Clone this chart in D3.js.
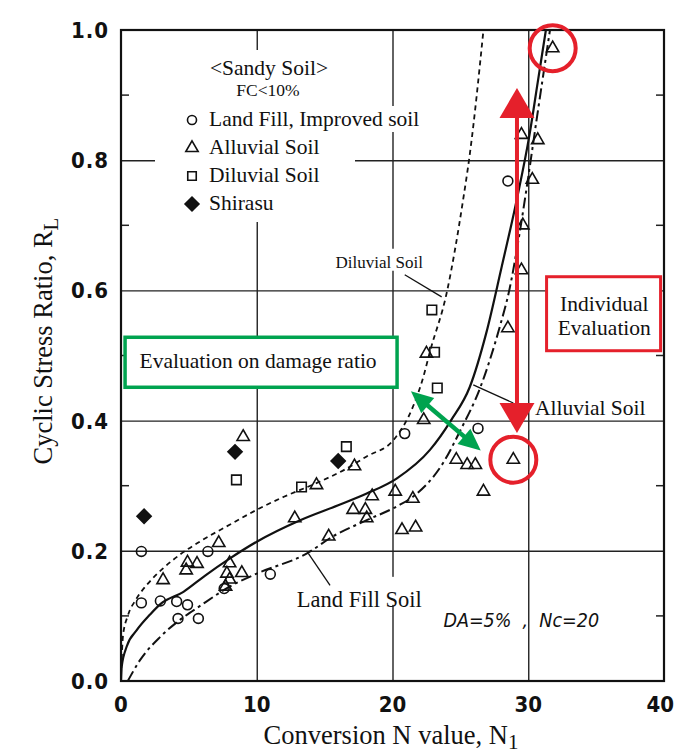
<!DOCTYPE html>
<html lang="en">
<head>
<meta charset="UTF-8">
<title>Cyclic Stress Ratio vs Conversion N value</title>
<script src="https://d3js.org/d3.v7.min.js"></script>
<style>
  body { margin: 0; background: white; }
  svg text { font-family: "Liberation Serif", "Times New Roman", serif; fill: #111; }
  .num { font-family: "DejaVu Sans Condensed", "DejaVu Sans", sans-serif; font-size: 22px; font-weight: bold; }
  .grid line { stroke: #222; stroke-width: 1.4; }
</style>
</head>
<body>
<svg id="svg1" width="676" height="756"></svg>
<script>
// ticks ---------------------------------------------------------------
const xTicks = [0, 10, 20, 30, 40];
const yTicks = [0, 0.2, 0.4, 0.6, 0.8, 1.0];
const yMinor = [0.1, 0.3, 0.5, 0.7, 0.9];

// measured points [N1, RL] --------------------------------------------
const landFill = [[1.5,0.199],[1.5,0.12],[2.9,0.123],[4.1,0.122],[4.9,0.117],[4.2,0.096],[5.7,0.096],
  [6.4,0.199],[7.6,0.142],[11.0,0.164],[20.9,0.38],[26.3,0.388],[28.5,0.768]];
const alluvial = [[3.1,0.155],[4.8,0.17],[4.9,0.182],[5.6,0.18],[7.2,0.212],[7.7,0.145],[7.8,0.165],
  [8.0,0.181],[8.0,0.156],[8.9,0.166],[9.0,0.375],[12.8,0.25],[14.4,0.301],[15.3,0.222],[17.1,0.263],
  [17.2,0.33],[18.0,0.263],[18.1,0.25],[18.5,0.284],[20.2,0.291],[20.7,0.232],[21.5,0.28],[21.7,0.236],
  [22.3,0.401],[22.5,0.503],[24.7,0.34],[25.5,0.332],[26.1,0.332],[26.7,0.291],[28.5,0.542],[28.9,0.34],
  [29.5,0.631],[29.6,0.70],[29.5,0.839],[30.3,0.77],[30.7,0.831],[31.8,0.972]];
const diluvial = [[8.5,0.309],[13.3,0.298],[16.6,0.36],[22.9,0.57],[23.1,0.505],[23.3,0.45]];
const shirasu = [[1.7,0.253],[8.4,0.352],[16.0,0.338]];

// points singled out for individual evaluation
const circled = [[31.8,0.972],[28.9,0.34]];

// fitted curves [N1, RL] ----------------------------------------------
const alluvialCurve = [[0,0],[0.05,0.022],[0.42,0.053],[1.16,0.078],[2.14,0.102],[2.9,0.118],[4.6,0.137],
  [6.2,0.162],[8.0,0.188],[10.0,0.214],[13.2,0.247],[16.0,0.27],[18.1,0.288],[20.3,0.311],[22.76,0.355],
  [24.3,0.4],[25.7,0.452],[26.9,0.534],[28.04,0.636],[29.15,0.739],[30.1,0.84],[30.7,0.92],[31.3,1.0]];
const diluvialCurve = [[0.02,0.02],[0.15,0.07],[0.5,0.1],[1.1,0.125],[2.0,0.15],[3.1,0.173],[4.4,0.195],
  [5.8,0.214],[8.0,0.24],[10.0,0.263],[12.0,0.283],[14.4,0.304],[16.5,0.325],[18.1,0.345],[20.06,0.37],
  [21.5,0.421],[22.27,0.467],[22.76,0.506],[23.99,0.596],[25.2,0.739],[25.7,0.81],[26.7,1.0]];
const landFillCurve = [[0.5,0],[1.4,0.032],[2.9,0.068],[4.35,0.094],[5.8,0.115],[8.0,0.145],[10.0,0.165],
  [13.7,0.196],[15.6,0.222],[18.1,0.247],[20.3,0.268],[21.5,0.283],[23.7,0.334],[25.0,0.385],[26.45,0.45],
  [27.9,0.544],[28.6,0.6],[29.3,0.68],[29.9,0.76],[30.6,0.86],[31.6,1.0]];

// svg configuration ---------------------------------------------------
const svg = d3.select("svg#svg1");
const margin = {left: 121, top: 30, right: 12, bottom: 75};
const width = 676 - margin.left - margin.right;
const height = 756 - margin.top - margin.bottom;
const red = "#e5202b", green = "#00a34f";

const x = d3.scaleLinear().domain([0, 40]).range([0, width]);
const y = d3.scaleLinear().domain([0, 1]).range([height, 0]);

const chart = svg.append("g").attr("transform", `translate(${margin.left},${margin.top})`);

svg.append("defs").append("clipPath").attr("id", "clip")
  .append("rect").attr("width", width).attr("height", height);

// grids
chart.append("g").attr("class", "grid")
  .call(d3.axisBottom(x).tickValues([10, 20, 30]).tickSize(-height).tickFormat(""))
  .attr("transform", `translate(0,${height})`)
  .call(g => g.select(".domain").remove());
chart.append("g").attr("class", "grid")
  .call(d3.axisLeft(y).tickValues([0.2, 0.4, 0.6, 0.8]).tickSize(-width).tickFormat(""))
  .call(g => g.select(".domain").remove());

// minor ticks on both sides
chart.append("g").selectAll("line").data(yMinor).join("line")
  .attr("x1", 0).attr("x2", 8).attr("y1", d => y(d)).attr("y2", d => y(d))
  .attr("stroke", "#222").attr("stroke-width", 1.5);
chart.append("g").selectAll("line").data(yMinor).join("line")
  .attr("x1", width - 8).attr("x2", width).attr("y1", d => y(d)).attr("y2", d => y(d))
  .attr("stroke", "#222").attr("stroke-width", 1.5);

// tick labels
chart.append("g").selectAll("text").data(yTicks).join("text")
  .attr("class", "num").attr("x", -12).attr("y", d => y(d) + 8)
  .attr("text-anchor", "end").style("letter-spacing", "1px")
  .text(d => d.toFixed(1));
// last label would run past the page edge, so it is right-aligned there
chart.append("g").selectAll("text").data(xTicks).join("text")
  .attr("class", "num")
  .attr("x", (d, i) => i === xTicks.length - 1 ? width + margin.right - 2 : x(d))
  .attr("y", height + 31)
  .attr("text-anchor", (d, i) => i === xTicks.length - 1 ? "end" : "middle")
  .text(d => d);

// curves
const lineGen = d3.line().x(d => x(d[0])).y(d => y(d[1])).curve(d3.curveMonotoneX);
const curves = chart.append("g").attr("clip-path", "url(#clip)");
curves.append("path").attr("d", lineGen(diluvialCurve))
  .attr("fill", "none").attr("stroke", "#111").attr("stroke-width", 1.8).attr("stroke-dasharray", "5,4");
curves.append("path").attr("d", lineGen(landFillCurve))
  .attr("fill", "none").attr("stroke", "#111").attr("stroke-width", 2).attr("stroke-dasharray", "11,4,3,4");
curves.append("path").attr("d", lineGen(alluvialCurve))
  .attr("fill", "none").attr("stroke", "#111").attr("stroke-width", 2.2);

// markers
const sym = (type, size) => d3.symbol().type(type).size(size)();
const drawPoints = (data, path, filled, rot) => chart.append("g").selectAll("path").data(data).join("path")
  .attr("d", path)
  .attr("transform", d => `translate(${x(d[0])},${y(d[1])})` + (rot ? " rotate(45)" : ""))
  .attr("fill", filled ? "#111" : "none").attr("stroke", "#111").attr("stroke-width", 1.6);
drawPoints(landFill, sym(d3.symbolCircle, 76), false);
drawPoints(alluvial, sym(d3.symbolTriangle, 66), false);
drawPoints(diluvial, sym(d3.symbolSquare, 90), false);
drawPoints(shirasu, sym(d3.symbolSquare, 100), true, true);

// frame
chart.append("rect").attr("width", width).attr("height", height)
  .attr("fill", "none").attr("stroke", "#111").attr("stroke-width", 2.2);

// axis titles
svg.append("text").attr("x", 391).attr("y", 744).attr("text-anchor", "middle")
  .style("font-size", "26.5px")
  .html('Conversion N value, N<tspan dy="5" font-size="21">1</tspan>');
svg.append("text").attr("transform", "translate(52,341) rotate(-90)").attr("text-anchor", "middle")
  .style("font-size", "26.5px")
  .html('Cyclic Stress Ratio, R<tspan dy="6" font-size="21">L</tspan>');

// legend
const legend = svg.append("g");
legend.append("rect").attr("x", 155).attr("y", 50).attr("width", 200).attr("height", 172).attr("fill", "white");
legend.append("rect").attr("x", 205).attr("y", 106).attr("width", 224).attr("height", 26).attr("fill", "white");
legend.append("text").attr("x", 269).attr("y", 75).attr("text-anchor", "middle").style("font-size", "21.5px").text("<Sandy Soil>");
legend.append("text").attr("x", 268).attr("y", 96).attr("text-anchor", "middle").style("font-size", "17.5px").text("FC<10%");
const legendItems = [
  {label: "Land Fill, Improved soil", path: sym(d3.symbolCircle, 64), filled: false, rot: false},
  {label: "Alluvial Soil", path: sym(d3.symbolTriangle, 66), filled: false, rot: false},
  {label: "Diluvial Soil", path: sym(d3.symbolSquare, 72), filled: false, rot: false},
  {label: "Shirasu", path: sym(d3.symbolSquare, 96), filled: true, rot: true}
];
legendItems.forEach((d, i) => {
  const yy = 120 + i * 28;
  legend.append("path").attr("d", d.path)
    .attr("transform", `translate(192,${yy})` + (d.rot ? " rotate(45)" : ""))
    .attr("fill", d.filled ? "#111" : "none").attr("stroke", "#111").attr("stroke-width", 1.6);
  legend.append("text").attr("x", 209).attr("y", yy + 6).style("font-size", "21.5px").text(d.label);
});

// curve labels
const labels = chart.append("g");
labels.append("rect").attr("x", x(15.6)).attr("y", y(0.664)).attr("width", 98).attr("height", 22).attr("fill", "white");
labels.append("text").attr("x", x(15.8)).attr("y", y(0.634)).style("font-size", "17px").text("Diluvial Soil");
labels.append("line").attr("x1", x(20.9)).attr("y1", y(0.624)).attr("x2", x(23.62)).attr("y2", y(0.59))
  .attr("stroke", "#111").attr("stroke-width", 1.3);
labels.append("text").attr("x", x(30.5)).attr("y", y(0.408)).style("font-size", "21.5px").text("Alluvial Soil");
labels.append("line").attr("x1", x(25.95)).attr("y1", y(0.455)).attr("x2", x(28.9)).attr("y2", y(0.427))
  .attr("stroke", "#111").attr("stroke-width", 1.3);
labels.append("rect").attr("x", x(12.7)).attr("y", y(0.16)).attr("width", 160).attr("height", 28).attr("fill", "white");
labels.append("text").attr("x", x(12.95)).attr("y", y(0.114)).style("font-size", "22.5px").text("Land Fill Soil");
labels.append("line").attr("x1", x(13.8)).attr("y1", y(0.196)).attr("x2", x(15.4)).attr("y2", y(0.147))
  .attr("stroke", "#111").attr("stroke-width", 1.3);
labels.append("text").attr("x", x(23.75)).attr("y", y(0.083))
  .style("font-family", '"DejaVu Sans Condensed", "DejaVu Sans", sans-serif').style("font-size", "19.5px")
  .style("font-style", "italic").attr("xml:space", "preserve").text("DA=5%  ,  Nc=20");

// annotations ---------------------------------------------------------
const head = (tip, from, len, w) => {
  const dx = tip[0] - from[0], dy = tip[1] - from[1], L = Math.hypot(dx, dy);
  const ux = dx / L, uy = dy / L;
  const bx = tip[0] - ux * len, by = tip[1] - uy * len;
  return [tip, [bx - uy * w / 2, by + ux * w / 2], [bx + uy * w / 2, by - ux * w / 2]];
};
const doubleArrow = (a, b, color, sw, len, w) => {
  const p1 = [x(a[0]), y(a[1])], p2 = [x(b[0]), y(b[1])];
  const dx = p2[0] - p1[0], dy = p2[1] - p1[1], L = Math.hypot(dx, dy);
  chart.append("line")
    .attr("x1", p1[0] + dx / L * (len - 2)).attr("y1", p1[1] + dy / L * (len - 2))
    .attr("x2", p2[0] - dx / L * (len - 2)).attr("y2", p2[1] - dy / L * (len - 2))
    .attr("stroke", color).attr("stroke-width", sw);
  chart.append("polygon").attr("points", head(p1, p2, len, w).join(" ")).attr("fill", color);
  chart.append("polygon").attr("points", head(p2, p1, len, w).join(" ")).attr("fill", color);
};

// green: damage-ratio evaluation
chart.append("rect").attr("x", x(0.3)).attr("y", y(0.528)).attr("width", 272).attr("height", 50)
  .attr("fill", "white").attr("stroke", green).attr("stroke-width", 3.5);
chart.append("text").attr("x", x(10.1)).attr("y", y(0.481)).attr("text-anchor", "middle")
  .style("font-size", "21.5px").text("Evaluation on damage ratio");
doubleArrow([21.36, 0.445], [26.5, 0.354], green, 4.5, 22, 20);

// red: individual evaluation
doubleArrow([29.17, 0.911], [29.17, 0.381], red, 4, 30, 35);
chart.append("g").selectAll("circle").data(circled).join("circle")
  .attr("cx", d => x(d[0])).attr("cy", d => y(d[1])).attr("r", 23)
  .attr("fill", "none").attr("stroke", red).attr("stroke-width", 4);
chart.append("rect").attr("x", x(31.35)).attr("y", y(0.621)).attr("width", 114).attr("height", 74)
  .attr("fill", "white").attr("stroke", red).attr("stroke-width", 3);
chart.append("text").attr("x", x(35.6)).attr("y", y(0.569)).attr("text-anchor", "middle")
  .style("font-size", "21.5px").text("Individual");
chart.append("text").attr("x", x(35.6)).attr("y", y(0.531)).attr("text-anchor", "middle")
  .style("font-size", "21.5px").text("Evaluation");
</script>
</body>
</html>
